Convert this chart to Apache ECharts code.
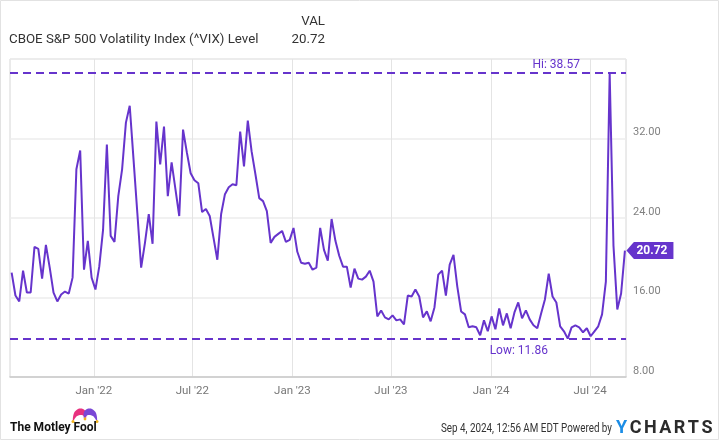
<!DOCTYPE html>
<html>
<head>
<meta charset="utf-8">
<script src="https://cdn.jsdelivr.net/npm/echarts@6/dist/echarts.min.js"></script>
<style>
  html, body { margin: 0; padding: 0; background: #fff; }
  #chart { width: 720px; height: 441px; }
</style>
</head>
<body>
<div id="chart"></div>
<script>
// weekly closes, first one on the start date
const startDate = [2021, 8, 3]
const vix = [
  18.5, 16.2, 15.6, 18.7, 16.5, 16.5, 21.1, 20.9, 17.9, 21.3,
  19.0, 16.5, 15.6, 16.3, 16.6, 16.4, 18.0, 28.9, 30.8, 18.8,
  21.7, 18.0, 16.8, 19.1, 22.8, 31.4, 22.2, 21.6, 26.2, 28.9,
  33.6, 35.3, 29.9, 24.5, 19.0, 21.5, 24.4, 21.4, 33.7, 29.4,
  33.2, 26.2, 29.6, 26.9, 24.2, 32.9, 30.6, 28.5, 27.8, 27.5,
  24.6, 24.9, 24.2, 22.0, 19.8, 24.4, 26.4, 27.1, 27.4, 27.3,
  32.7, 29.2, 33.8, 30.7, 28.4, 26.0, 25.7, 24.7, 21.5, 22.1,
  22.4, 22.7, 21.6, 21.8, 23.0, 20.6, 19.5, 19.4, 19.5, 18.8,
  19.0, 23.0, 20.8, 19.7, 23.9, 21.7, 20.2, 19.1, 19.1, 17.0,
  18.9, 17.9, 17.8, 18.1, 18.7, 17.6, 14.1, 14.7, 14.0, 13.8,
  14.2, 13.7, 13.8, 13.3, 16.2, 16.1, 16.8, 16.1, 14.0, 14.6,
  13.6, 15.0, 18.3, 18.7, 16.2, 19.3, 20.3, 17.1, 14.6, 14.3,
  13.0, 13.1, 13.0, 12.2, 13.7, 12.6, 14.1, 12.8, 14.9, 13.2,
  14.4, 12.9, 14.5, 15.5, 13.9, 14.7, 13.8, 13.2, 12.9, 14.4,
  15.8, 18.4, 16.1, 15.5, 13.1, 12.6, 11.86, 13.0, 13.2, 13.0,
  12.5, 12.9, 12.1, 12.6, 13.1, 14.3, 17.6, 38.57, 21.2, 14.8,
  16.4, 20.72
]
const hiValue = 38.57
const lowValue = 11.86
const tickDates = [[2022, 1, 1], [2022, 7, 1], [2023, 1, 1], [2023, 7, 1], [2024, 1, 1], [2024, 7, 1]]
const tickLabels = ["Jan '22", "Jul '22", "Jan '23", "Jul '23", "Jan '24", "Jul '24"]
const xRange = [[2021, 7, 31], [2024, 9, 5]]
const yMin = 8
const yMax = 40
const yStep = 8

const purple = '#6634cc'
const toTime = (d, addDays = 0) => +new Date(d[0], d[1] - 1, d[2] + addDays)
const seriesData = vix.map((v, i) => [toTime(startDate, i * 7), v])
const tickTimes = tickDates.map(d => toTime(d))
const lastPoint = seriesData[seriesData.length - 1]

const chart = echarts.init(document.getElementById('chart'), null, { renderer: 'canvas' })

const option = {
  animation: false,
  textStyle: { fontFamily: 'Roboto' },
  grid: {
    left: 10,
    right: 94,
    top: 59,
    bottom: 64,
    show: true,
    borderColor: '#d6d6d6',
    borderWidth: 1
  },
  xAxis: {
    type: 'value',
    min: toTime(xRange[0]),
    max: toTime(xRange[1]),
    axisLine: { lineStyle: { color: '#c9c9c9', width: 1.5 } },
    axisTick: { show: false, customValues: tickTimes },
    axisLabel: {
      customValues: tickTimes,
      color: '#777',
      fontSize: 11.5,
      margin: 8,
      formatter: (val) => tickLabels[tickTimes.indexOf(val)] || ''
    },
    splitLine: { show: true, lineStyle: { color: '#e4e4e4' } }
  },
  yAxis: {
    type: 'value',
    position: 'right',
    min: yMin,
    max: yMax,
    interval: yStep,
    axisLine: { show: false },
    axisTick: { show: false },
    axisLabel: {
      color: '#808080',
      fontSize: 11,
      margin: 7,
      verticalAlign: 'bottom',
      lineHeight: 12,
      showMaxLabel: false,
      formatter: (v) => v.toFixed(2)
    },
    splitLine: { lineStyle: { color: '#ececec', width: 1.5 } }
  },
  series: [
    {
      type: 'line',
      data: seriesData,
      showSymbol: false,
      lineStyle: { color: purple, width: 2 },
      itemStyle: { color: purple },
      markLine: {
        silent: true,
        symbol: 'none',
        lineStyle: { color: purple, type: [8, 5], width: 2 },
        data: [
          {
            yAxis: hiValue,
            label: {
              formatter: 'Hi: ' + hiValue.toFixed(2),
              position: 'insideEndTop',
              distance: [46, 2],
              color: purple,
              fontSize: 12
            }
          },
          {
            yAxis: lowValue,
            label: {
              formatter: 'Low: ' + lowValue.toFixed(2),
              position: 'insideEndBottom',
              distance: [78, 6],
              color: purple,
              fontSize: 12
            }
          }
        ]
      },
      markPoint: {
        silent: true,
        symbol: 'path://M0,8.5L7.5,0L47,0L47,17L7.5,17Z',
        symbolSize: [47, 17],
        symbolOffset: [25, 0],
        itemStyle: { color: purple },
        label: {
          show: true,
          position: 'inside',
          color: '#fff',
          fontWeight: 'bold',
          fontSize: 12,
          offset: [2, 0],
          formatter: (p) => p.value.toFixed(2)
        },
        data: [{ coord: lastPoint, value: lastPoint[1] }]
      }
    }
  ],
  graphic: [
    {
      type: 'rect',
      silent: true,
      shape: { x: 0.5, y: 0.5, width: 718, height: 439 },
      style: { fill: 'none', stroke: '#e2e2e2', lineWidth: 1 }
    },
    {
      type: 'text',
      style: {
        text: 'CBOE S&P 500 Volatility Index (^VIX) Level',
        x: 9, y: 40,
        font: '13.3px Roboto',
        fill: '#333',
        textVerticalAlign: 'middle'
      }
    },
    {
      type: 'text',
      style: {
        text: 'VAL', x: 325, y: 22, font: '13.3px Roboto', fill: '#333',
        textAlign: 'right', textVerticalAlign: 'middle'
      }
    },
    {
      type: 'text',
      style: {
        text: vix[vix.length - 1].toFixed(2), x: 325, y: 40, font: '13.3px Roboto', fill: '#333',
        textAlign: 'right', textVerticalAlign: 'middle'
      }
    },
    // motley fool logo
    {
      type: 'polygon',
      shape: { points: [[73, 421], [74, 413], [78, 409], [83, 409], [86, 412], [86, 418], [82, 415], [77, 416]], smooth: 0.3 },
      style: { fill: '#e8317f' }
    },
    {
      type: 'polygon',
      shape: { points: [[97, 421], [96, 413], [92, 409], [87, 409], [84, 412], [84, 418], [88, 415], [93, 416]], smooth: 0.3 },
      style: { fill: '#7a47d6' }
    },
    { type: 'circle', shape: { cx: 73, cy: 421.5, r: 1.5 }, style: { fill: '#f2b51c' } },
    { type: 'circle', shape: { cx: 97, cy: 421.5, r: 1.5 }, style: { fill: '#f2b51c' } },
    { type: 'circle', shape: { cx: 85, cy: 419, r: 1.4 }, style: { fill: '#f2b51c' } },
    {
      type: 'text',
      style: {
        text: 'The Motley Fool', x: 10, y: 428, font: 'bold 12px Roboto', fill: '#111',
        textVerticalAlign: 'middle'
      }
    },
    {
      type: 'text',
      x: 612,
      y: 429,
      scaleX: 0.82,
      style: {
        text: 'Sep 4, 2024, 12:56 AM EDT Powered by', x: 0, y: 0, font: '12px Roboto', fill: '#333',
        textAlign: 'right', textVerticalAlign: 'middle'
      }
    },
    {
      type: 'text',
      style: {
        text: '{y|Y}{c|C}{c|H}{c|A}{c|R}{c|T}{c|S}',
        x: 616, y: 428,
        textVerticalAlign: 'middle',
        rich: {
          y: { font: 'bold 18px Roboto', fill: '#1b8de6', padding: [0, 2.5, 0, 0] },
          c: { font: 'bold 18px Roboto', fill: '#2b2b2b', padding: [0, 2.5, 0, 0] }
        }
      }
    }
  ]
}

chart.setOption(option)
</script>
</body>
</html>
